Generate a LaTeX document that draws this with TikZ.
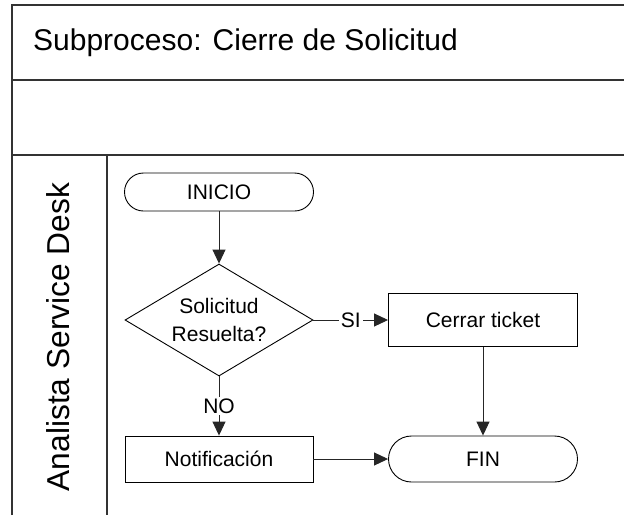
\documentclass[tikz,border=0pt]{standalone}
\usepackage{fontspec}
\setmainfont{Liberation Sans}
\usetikzlibrary{shapes.geometric,arrows.meta}

\begin{document}
\begin{tikzpicture}[x=1pt, y=-1pt,
    frameStyle/.style={draw=black!80, line width=1.3pt},
    boxStyle/.style={draw, rectangle, line width=0.9pt, inner sep=0pt, font=\fontsize{21}{28}\selectfont},
    termStyle/.style={boxStyle, rounded corners=#1},
    decStyle/.style={draw, diamond, aspect=1.68, inner sep=0pt, line width=0.9pt, minimum width=188pt, minimum height=112pt, align=center, font=\fontsize{21}{28}\selectfont},
    flow/.style={draw=black!85, line width=0.9pt, -{Triangle[length=14pt, width=13pt]}},
    lbl/.style={fill=white, inner sep=2pt, font=\fontsize{21}{25}\selectfont}]
    \useasboundingbox[fill=white] (0,0) rectangle (624,515);

    % pool frame
    \draw[frameStyle] (12,515) -- (12,5) -- (624,5);
    \draw[frameStyle] (12,80) -- (624,80);
    \draw[frameStyle] (12,155) -- (624,155);
    \draw[frameStyle] (107,155) -- (107,515);

    \node[anchor=base west, inner sep=0pt, font=\fontsize{30}{36}\selectfont](title) at (33, 50) {Subproceso: Cierre de Solicitud};
    \node[rotate=90, inner sep=0pt, font=\fontsize{31.7}{38}\selectfont](lane) at (58, 337) {Analista Service Desk};

    \node[termStyle=19pt, minimum width=189pt, minimum height=38pt](inicio) at (219, 192) {INICIO};
    \node[decStyle](decision) at (219, 320) {Solicitud\\Resuelta?};
    \node[boxStyle, minimum width=189pt, minimum height=53pt](cerrar) at (483, 320) {Cerrar ticket};
    \node[boxStyle, minimum width=188pt, minimum height=46pt](notif) at (219, 459) {Notificación};
    \node[termStyle=23pt, minimum width=189pt, minimum height=46pt](fin) at (483, 459) {FIN};

    \draw[flow] (inicio) -- (decision);
    \draw[flow] (decision) -- node[lbl]{SI} (cerrar);
    \draw[flow] (decision) -- node[lbl]{NO} (notif);
    \draw[flow] (cerrar) -- (fin);
    \draw[flow] (notif) -- (fin);
\end{tikzpicture}
\end{document}
